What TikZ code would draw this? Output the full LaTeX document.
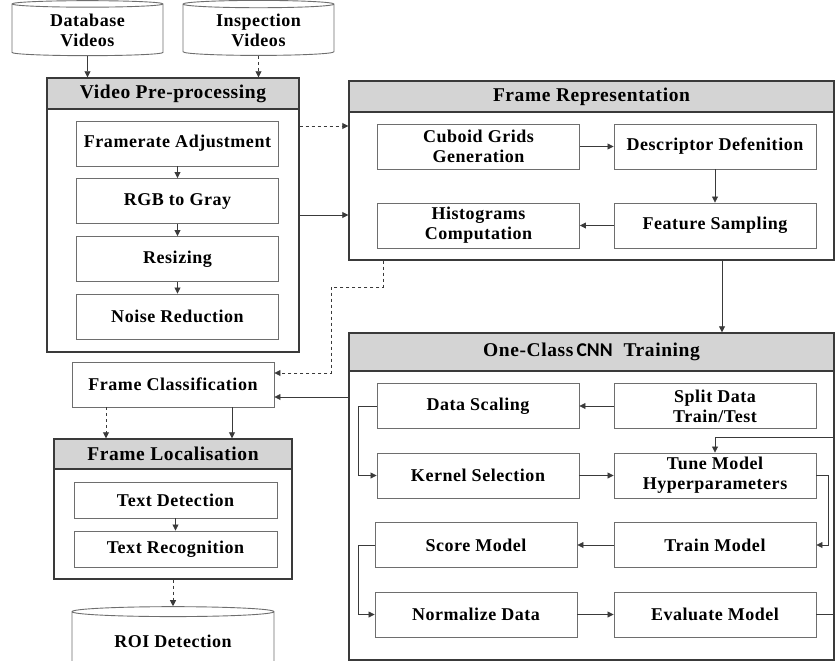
\documentclass[tikz,border=0pt]{standalone}
\usepackage{fontspec}
\setmainfont{Liberation Serif}[LetterSpace=3]
\newfontfamily\cnnfont{Carlito}
\usetikzlibrary{arrows.meta,shapes.geometric}
\definecolor{headgray}{HTML}{D4D4D4}
\definecolor{boxgray}{HTML}{6E6E6E}
\definecolor{linegray}{HTML}{3A3A3A}

\tikzset{
  boxfont/.style={font=\bfseries\fontsize{18}{20}\selectfont},
  headfont/.style={font=\bfseries\fontsize{19.5}{21}\selectfont},
  stage/.style={boxfont, draw=boxgray, line width=0.9pt, fill=white,
    minimum width=202pt, minimum height=45pt, align=center, inner sep=1pt},
  panel/.style={draw=linegray, line width=1.4pt, inner sep=0pt},
  panelhead/.style={panel, headfont, fill=headgray},
  drum/.style={boxfont, cylinder, shape border rotate=90, aspect=0.08,
    draw=boxgray, line width=0.9pt, align=center, fill=white},
  arr/.style={-{Triangle[length=6pt,width=6pt]}, line width=0.8pt, linegray},
  dasharr/.style={arr, dashed},
}

\begin{document}
\begin{tikzpicture}[x=1pt,y=-1pt]
  \useasboundingbox (0,0) rectangle (835,661);

  % input videos
  \node[drum, minimum width=151pt, minimum height=55pt] (dbv) at (87.5,30.5) {Database\\Videos};
  \node[drum, minimum width=151pt, minimum height=55pt] (isv) at (258.5,30.5) {Inspection\\Videos};

  % video pre-processing
  \node[panel, minimum width=252pt, minimum height=274pt] (vpp) at (173,215) {};
  \node[panelhead, minimum width=252pt, minimum height=31pt] (vpph) at (173,93.5) {Video Pre-processing};
  \node[stage] (fra) at (177.5,143.5) {Framerate Adjustment};
  \node[stage] (rgb) at (177.5,201) {RGB to Gray};
  \node[stage] (rsz) at (177.5,259) {Resizing};
  \node[stage] (nse) at (177.5,316.5) {Noise Reduction};

  % frame representation
  \node[panel, minimum width=485pt, minimum height=179pt] (frp) at (591.5,170.5) {};
  \node[panelhead, minimum width=485pt, minimum height=31pt] (frph) at (591.5,96.5) {Frame Representation};
  \node[stage] (cub) at (478.5,146.5) {Cuboid Grids\\Generation};
  \node[stage] (des) at (715,146.5) {Descriptor Defenition};
  \node[stage] (his) at (478.5,225.5) {Histograms\\Computation};
  \node[stage] (fes) at (715,225.5) {Feature Sampling};

  % one-class training
  \node[panel, minimum width=485pt, minimum height=327pt] (oct) at (591.5,496.5) {};
  \node[panelhead, minimum width=485pt, minimum height=38pt] (octh) at (591.5,352)
    {One-Class\,{\cnnfont CNN}\ \ Training};
  \node[stage] (dsc) at (478,406) {Data Scaling};
  \node[stage] (spl) at (715,406) {Split Data\\Train/Test};
  \node[stage] (ker) at (478,475.5) {Kernel Selection};
  \node[stage] (tun) at (715,475.5) {Tune Model\\Hyperparameters};
  \node[stage] (scm) at (476,545) {Score Model};
  \node[stage] (trm) at (715,545) {Train Model};
  \node[stage] (nrm) at (476,614.5) {Normalize Data};
  \node[stage] (eva) at (715,614.5) {Evaluate Model};

  % classification and localisation
  \node[stage] (frc) at (173,384.5) {Frame Classification};
  \node[panel, minimum width=238pt, minimum height=140pt] (frl) at (173,509) {};
  \node[panelhead, minimum width=238pt, minimum height=30pt] (frlh) at (173,454) {Frame Localisation};
  \node[stage, minimum width=203pt, minimum height=36pt] (tdt) at (175.5,500) {Text Detection};
  \node[stage, minimum width=203pt, minimum height=36pt] (trc) at (175.5,549) {Text Recognition};
  \node[drum, minimum width=202pt, minimum height=62pt] (roi) at (173,641) {ROI Detection};

  % connectors
  \draw[arr] (dbv.south) -- (dbv.south |- vpp.north);
  \draw[dasharr] (isv.south) -- (isv.south |- vpp.north);
  \draw[arr] (fra) -- (rgb);
  \draw[arr] (rgb) -- (rsz);
  \draw[arr] (rsz) -- (nse);
  \draw[dasharr] (vpp.east |- 0,126) -- (frp.west |- 0,126);
  \draw[arr] (vpp.east |- 0,215) -- (frp.west |- 0,215);
  \draw[arr] (cub) -- (des);
  \draw[arr] (des) -- (fes);
  \draw[arr] (fes) -- (his);
  \draw[arr] (frp.south -| 722,0) -- (oct.north -| 722,0);
  \draw[dasharr] (frp.south -| 383,0) |- (331,287) |- (frc.east |- 0,373);
  \draw[arr] (oct.west |- 0,397) -- (frc.east |- 0,397);
  \draw[arr] (spl) -- (dsc);
  \draw[arr] (dsc.west) -- ++(-18,0) |- (ker.west);
  \draw[arr] (ker) -- (tun);
  \draw[arr] (eva.east) -- ++(18,0) |- ([yshift=15pt]tun.north) -- (tun.north);
  \draw[arr] (tun.east) -- ++(12,0) |- (trm.east);
  \draw[arr] (trm) -- (scm);
  \draw[arr] (scm.west) -- ++(-16,0) |- (nrm.west);
  \draw[arr] (nrm) -- (eva);
  \draw[dasharr] (frc.south -| 106,0) -- (frl.north -| 106,0);
  \draw[arr] (frc.south -| 232,0) -- (frl.north -| 232,0);
  \draw[arr] (tdt) -- (trc);
  \draw[dasharr] (frl.south) -- (roi.north);
\end{tikzpicture}
\end{document}
